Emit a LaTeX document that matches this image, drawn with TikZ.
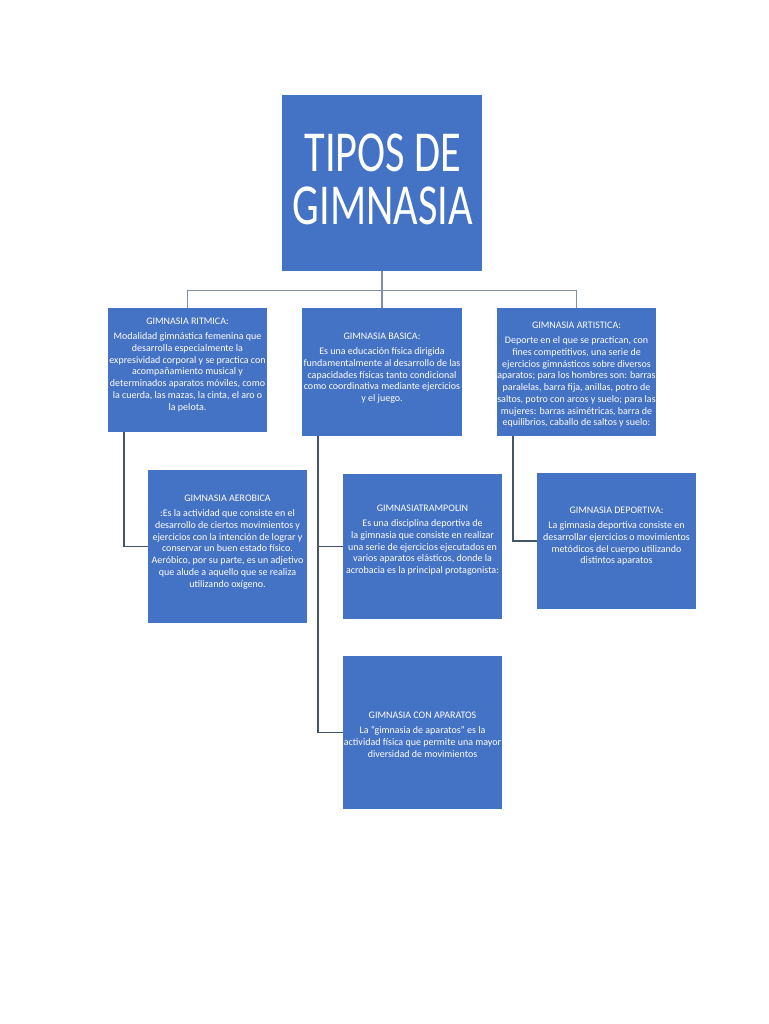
\documentclass[tikz,border=0pt]{standalone}
\usepackage{fontspec}
\setmainfont{Carlito}
\newfontfamily\titlefont[FakeStretch=0.73]{Carlito}
\usetikzlibrary{positioning}
\definecolor{boxblue}{HTML}{4472C4}
\definecolor{linegray}{HTML}{7F8FA9}
\definecolor{linedark}{HTML}{44546A}
\tikzset{
  tbox/.style={fill=boxblue, draw=none, inner sep=0pt},
  ttext/.style={text=white, align=center, inner sep=0pt, anchor=north,
    font={\fontsize{10}{11.7}\selectfont}},
  topline/.style={draw=linegray, line width=1.3pt},
  sideline/.style={draw=linedark, line width=1.5pt}
}
\begin{document}
\begin{tikzpicture}[x=1pt,y=-1pt]
  \useasboundingbox[fill=white] (0,0) rectangle (768,1024);
  % cajas
  \node[tbox, minimum width=200pt, minimum height=176pt] (titulo) at (382,183) {};
  \node[tbox, minimum width=159pt, minimum height=124pt] (ritmica) at (187.5,370) {};
  \node[tbox, minimum width=160pt, minimum height=128pt] (basica) at (382,372) {};
  \node[tbox, minimum width=159pt, minimum height=128pt] (artistica) at (576.5,372) {};
  \node[tbox, minimum width=159pt, minimum height=153pt] (aerobica) at (227.5,546.5) {};
  \node[tbox, minimum width=159pt, minimum height=145pt] (trampolin) at (422.5,546.5) {};
  \node[tbox, minimum width=159pt, minimum height=136pt] (deportiva) at (616.5,541) {};
  \node[tbox, minimum width=159pt, minimum height=153pt] (aparatos) at (422.5,732.5) {};
  % textos
  \node[ttext, font={\titlefont\fontsize{58}{53}\selectfont}] (tituloT) at (383,134) {TIPOS DE\\GIMNASIA};
  \node[ttext] (ritmicaT) at (187.5,318) {GIMNASIA RITMICA:\\[3.5pt]
    Modalidad gimnástica femenina que\\desarrolla especialmente la\\
    expresividad corporal y se practica con\\acompañamiento musical y\\
    determinados aparatos móviles, como\\la cuerda, las mazas, la cinta, el aro o\\la pelota.};
  \node[ttext] (basicaT) at (382,333) {GIMNASIA BASICA:\\[3.5pt]
    Es una educación física dirigida\\fundamentalmente al desarrollo de las\\
    capacidades físicas tanto condicional\\como coordinativa mediante ejercicios\\y el juego.};
  \node[ttext] (artisticaT) at (576.5,322) {GIMNASIA ARTISTICA:\\[3.5pt]
    Deporte en el que se practican, con\\fines competitivos, una serie de\\
    ejercicios gimnásticos sobre diversos\\aparatos; para los hombres son: barras\\
    paralelas, barra fija, anillas, potro de\\saltos, potro con arcos y suelo; para las\\
    mujeres: barras asimétricas, barra de\\equilibrios, caballo de saltos y suelo:};
  \node[ttext] (aerobicaT) at (227.5,495) {GIMNASIA AEROBICA\\[3.5pt]
    :Es la actividad que consiste en el\\desarrollo de ciertos movimientos y\\
    ejercicios con la intención de lograr y\\conservar un buen estado físico.\\
    Aeróbico, por su parte, es un adjetivo\\que alude a aquello que se realiza\\utilizando oxígeno.};
  \node[ttext] (trampolinT) at (422.5,505) {GIMNASIATRAMPOLIN\\[3.5pt]
    Es una disciplina deportiva de\\la gimnasia que consiste en realizar\\
    una serie de ejercicios ejecutados en\\varios aparatos elásticos, donde la\\
    acrobacia es la principal protagonista:};
  \node[ttext] (deportivaT) at (616.5,507) {GIMNASIA DEPORTIVA:\\[3.5pt]
    La gimnasia deportiva consiste en\\desarrollar ejercicios o movimientos\\
    metódicos del cuerpo utilizando\\distintos aparatos};
  \node[ttext] (aparatosT) at (422.5,712) {GIMNASIA CON APARATOS\\[3.5pt]
    La “gimnasia de aparatos” es la\\actividad física que permite una mayor\\
    diversidad de movimientos};
  % conectores
  \draw[topline] (titulo.south) -- (basica.north);
  \draw[topline] (titulo.south) ++(0,19) -| (ritmica.north);
  \draw[topline] (titulo.south) ++(0,19) -| (artistica.north);
  \coordinate (r1) at ([xshift=16pt]ritmica.south west);
  \coordinate (b1) at ([xshift=16pt]basica.south west);
  \coordinate (a1) at ([xshift=16pt]artistica.south west);
  \draw[sideline] (r1) |- (aerobica.west);
  \draw[sideline] (b1) |- (trampolin.west);
  \draw[sideline] (b1) |- (aparatos.west);
  \draw[sideline] (a1) |- (deportiva.west);
\end{tikzpicture}
\end{document}
